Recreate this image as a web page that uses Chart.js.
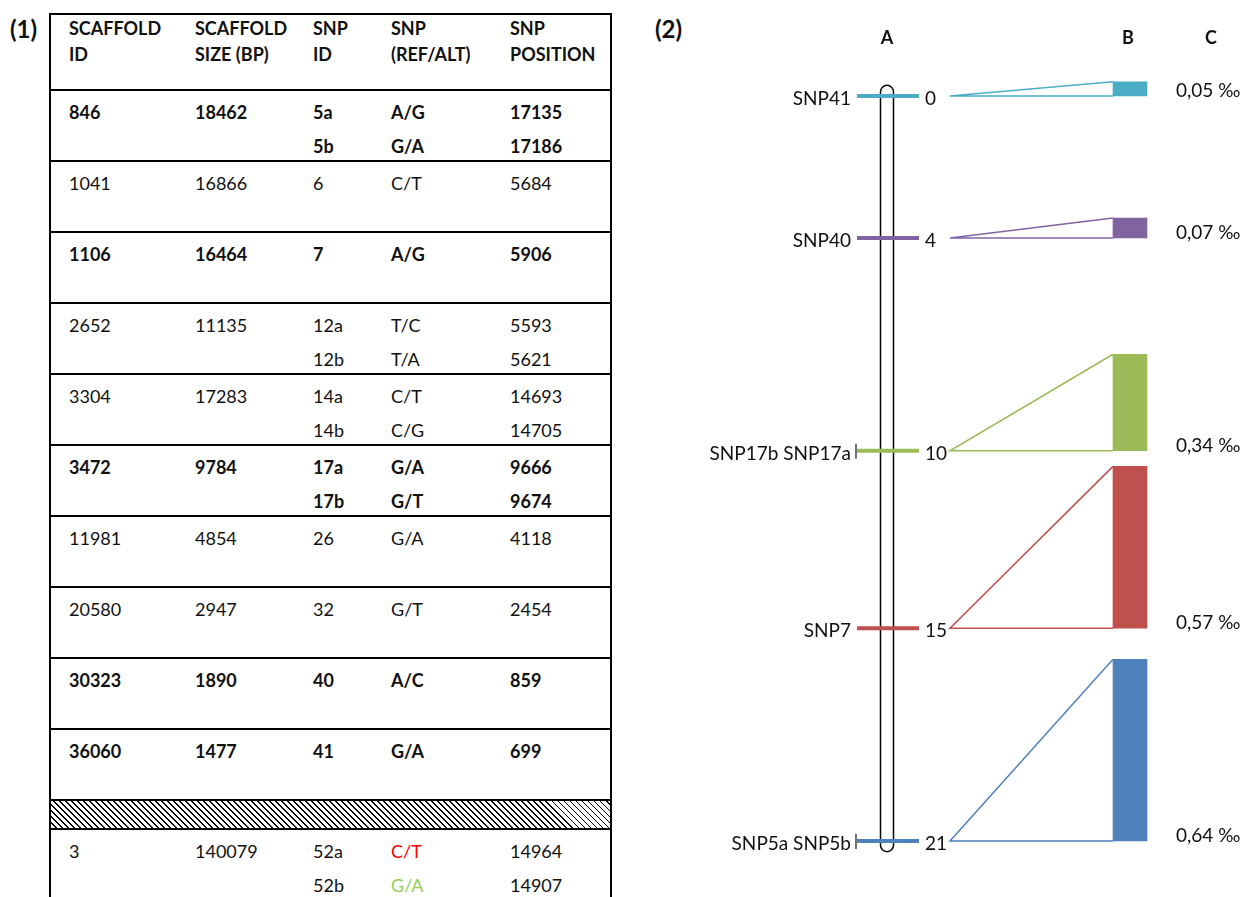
<!DOCTYPE html>
<html>
<head>
<meta charset="utf-8">
<script src="https://cdn.jsdelivr.net/npm/chart.js@4.4.1/dist/chart.umd.min.js"></script>
<style>
    html, body { margin: 0; padding: 0; background: #fff; width: 1252px; height: 897px; overflow: hidden; }
    body { font-family: Lato, "Open Sans", sans-serif; color: #111; position: relative; }
    .panel-label { position: absolute; top: 14px; font-weight: bold; font-size: 24px; }
    #snpTable { position: absolute; left: 49px; top: 13px; width: 559px; height: 900px; border: 2px solid #000; border-bottom: none; font-size: 18px; }
    .row { display: flex; box-sizing: border-box; }
    .row.header { height: 74px; line-height: 26px; font-weight: bold; }
    .row.band { height: 71px; border-top: 2px solid #000; padding-top: 4px; line-height: 34px; }
    .row.bold { font-weight: bold; }
    .hatch { height: 29px; box-sizing: border-box; border-top: 2px solid #000;
             background: repeating-linear-gradient(45deg, #fff 0px, #fff 2.9px, #000 2.9px, #000 4.25px); }
    .cell { padding-left: 18px; box-sizing: border-box; white-space: nowrap; }
    #chartBox { position: absolute; left: 640px; top: 0; width: 612px; height: 897px; }
</style>
</head>
<body>
<div class="panel-label" style="left:10px">(1)</div>
<div class="panel-label" style="left:655px">(2)</div>
<div id="snpTable"></div>
<div id="chartBox"><canvas id="mapChart"></canvas></div>

<script>
// ---- table (1) ----
const headerLines = [["SCAFFOLD", "ID"], ["SCAFFOLD", "SIZE (BP)"], ["SNP", "ID"], ["SNP", "(REF/ALT)"], ["SNP", "POSITION"]];
const scaffoldIds = ["846", "1041", "1106", "2652", "3304", "3472", "11981", "20580", "30323", "36060"];
const scaffoldSizes = ["18462", "16866", "16464", "11135", "17283", "9784", "4854", "2947", "1890", "1477"];
const snpIds = [["5a", "5b"], ["6"], ["7"], ["12a", "12b"], ["14a", "14b"], ["17a", "17b"], ["26"], ["32"], ["40"], ["41"]];
const snpAlleles = [["A/G", "G/A"], ["C/T"], ["A/G"], ["T/C", "T/A"], ["C/T", "C/G"], ["G/A", "G/T"], ["G/A"], ["G/T"], ["A/C"], ["G/A"]];
const snpPositions = [["17135", "17186"], ["5684"], ["5906"], ["5593", "5621"], ["14693", "14705"], ["9666", "9674"], ["4118"], ["2454"], ["859"], ["699"]];
const boldRows = [true, false, true, false, false, true, false, false, true, true];

const extraScaffold = "3";
const extraSize = "140079";
const extraSnpIds = ["52a", "52b"];
const extraAlleles = ["C/T", "G/A"];
const extraAlleleColors = ["#ff0000", "#92d050"];
const extraPositions = ["14964", "14907"];

// ---- map (2) ----
const markerNames = ["SNP41", "SNP40", "SNP17b SNP17a", "SNP7", "SNP5a SNP5b"];
const markerPositions = [0, 4, 10, 15, 21];
const multiSnp = [false, false, true, false, true];
const snpDensity = [0.05, 0.07, 0.34, 0.57, 0.64];
const densityLabels = ["0,05 ‰", "0,07 ‰", "0,34 ‰", "0,57 ‰", "0,64 ‰"];
const columnLabels = ["A", "B", "C"];
const markerColors = ["#4BACC6", "#8064A2", "#9BBB59", "#C0504D", "#4F81BD"];

const colWidths = [126, 118, 78, 119, 118];

function makeCell(lines, i, colors) {
    const cell = document.createElement("div");
    cell.className = "cell";
    cell.style.width = colWidths[i] + "px";
    lines.forEach((txt, k) => {
        const d = document.createElement("div");
        d.textContent = txt;
        if (colors) d.style.color = colors[k];
        cell.appendChild(d);
    });
    return cell;
}

function buildTable() {
    const table = document.getElementById("snpTable");
    const header = document.createElement("div");
    header.className = "row header";
    headerLines.forEach((lines, i) => header.appendChild(makeCell(lines, i)));
    table.appendChild(header);

    scaffoldIds.forEach((id, r) => {
        const row = document.createElement("div");
        row.className = "row band" + (boldRows[r] ? " bold" : "");
        row.appendChild(makeCell([id], 0));
        row.appendChild(makeCell([scaffoldSizes[r]], 1));
        row.appendChild(makeCell(snpIds[r], 2));
        row.appendChild(makeCell(snpAlleles[r], 3));
        row.appendChild(makeCell(snpPositions[r], 4));
        table.appendChild(row);
    });

    const hatch = document.createElement("div");
    hatch.className = "hatch";
    table.appendChild(hatch);

    const last = document.createElement("div");
    last.className = "row band";
    last.appendChild(makeCell([extraScaffold], 0));
    last.appendChild(makeCell([extraSize], 1));
    last.appendChild(makeCell(extraSnpIds, 2));
    last.appendChild(makeCell(extraAlleles, 3, extraAlleleColors));
    last.appendChild(makeCell(extraPositions, 4));
    table.appendChild(last);
}

buildTable();

// layout of the map panel, in x-axis units (0..612 across the panel)
const X_CHROM = 247, CHROM_HALF = 6.5;
const X_MARK_L = 217, X_MARK_R = 279;
const X_APEX = 310, X_BAR = 490, BAR_W = 34;
const X_NAME = 211, X_POS = 285, X_DENS = 536;
const X_HEADERS = [247, 488, 571];
const DENSITY_SCALE = 8; // map units per ‰

const barEdge = X_BAR - BAR_W / 2;

const datasets = [];

// density bars (B)
datasets.push({
    type: "bar",
    data: markerPositions.map((p, i) => ({ x: X_BAR, y: [p - snpDensity[i] * DENSITY_SCALE, p] })),
    backgroundColor: markerColors,
    barThickness: BAR_W,
    grouped: false,
    borderWidth: 0,
    clip: false,
    order: 3
});

// wedges linking the map to the bars
markerPositions.forEach((p, i) => {
    datasets.push({
        type: "line",
        data: [
            { x: barEdge, y: p - snpDensity[i] * DENSITY_SCALE },
            { x: X_APEX, y: p },
            { x: barEdge, y: p }
        ],
        borderColor: markerColors[i],
        borderWidth: 1.5,
        pointRadius: 0,
        fill: false,
        tension: 0,
        clip: false,
        order: 2
    });
});

// marker ticks on the chromosome (A)
markerPositions.forEach((p, i) => {
    datasets.push({
        type: "line",
        data: [{ x: X_MARK_L, y: p }, { x: X_MARK_R, y: p }],
        borderColor: markerColors[i],
        borderWidth: 4,
        borderCapStyle: "butt",
        pointRadius: 0,
        fill: false,
        clip: false,
        order: 1
    });
});

const chromosomePlugin = {
    id: "chromosome",
    beforeDatasetsDraw(chart) {
        const { ctx, scales: { x, y } } = chart;
        const left = x.getPixelForValue(X_CHROM - CHROM_HALF);
        const right = x.getPixelForValue(X_CHROM + CHROM_HALF);
        const top = y.getPixelForValue(markerPositions[0] - 0.3);
        const bottom = y.getPixelForValue(markerPositions[markerPositions.length - 1] + 0.3);
        const r = (right - left) / 2;
        ctx.save();
        ctx.strokeStyle = "#000";
        ctx.lineWidth = 1.5;
        ctx.beginPath();
        ctx.moveTo(left, top + r);
        ctx.arc(left + r, top + r, r, Math.PI, 0);
        ctx.lineTo(right, bottom - r);
        ctx.arc(left + r, bottom - r, r, 0, Math.PI);
        ctx.closePath();
        ctx.stroke();
        ctx.restore();
    }
};

const labelPlugin = {
    id: "mapLabels",
    afterDraw(chart) {
        const { ctx, scales: { x, y } } = chart;
        ctx.save();
        ctx.fillStyle = "#111";
        ctx.textBaseline = "middle";

        ctx.font = "bold 18px Lato";
        ctx.textAlign = "center";
        columnLabels.forEach((lab, i) => ctx.fillText(lab, x.getPixelForValue(X_HEADERS[i]), 38));

        ctx.font = "19px Lato";
        markerPositions.forEach((p, i) => {
            const py = y.getPixelForValue(p);
            ctx.textAlign = "right";
            ctx.fillText(markerNames[i], x.getPixelForValue(X_NAME), py + 3);
            ctx.textAlign = "left";
            ctx.fillText(String(p), x.getPixelForValue(X_POS), py + 3);
            ctx.fillText(densityLabels[i], x.getPixelForValue(X_DENS), py - 5);
            if (multiSnp[i]) {
                const tx = x.getPixelForValue(X_MARK_L) - 1;
                ctx.strokeStyle = "#111";
                ctx.lineWidth = 1.2;
                ctx.beginPath();
                ctx.moveTo(tx, py - 7);
                ctx.lineTo(tx, py + 8);
                ctx.stroke();
            }
        });
        ctx.restore();
    }
};

new Chart(document.getElementById("mapChart"), {
    type: "bar",
    data: { datasets },
    options: {
        responsive: true,
        maintainAspectRatio: false,
        animation: false,
        layout: { padding: { top: 96, bottom: 56, left: 0, right: 0 } },
        plugins: { legend: { display: false }, tooltip: { enabled: false } },
        scales: {
            x: { type: "linear", min: 0, max: 612, display: false, offset: false },
            y: { type: "linear", min: 0, max: 21, reverse: true, display: false }
        }
    },
    plugins: [chromosomePlugin, labelPlugin]
});
</script>
</body>
</html>
